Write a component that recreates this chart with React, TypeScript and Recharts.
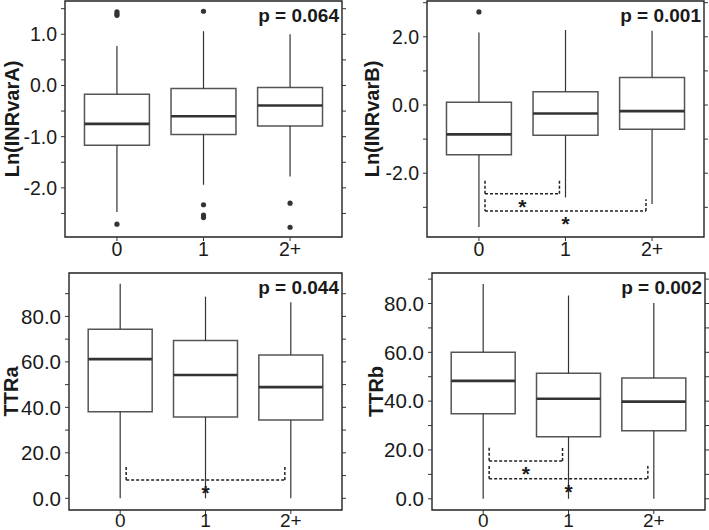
import React from 'react';
import {
  ComposedChart,
  XAxis,
  YAxis,
  Scatter,
  ReferenceArea,
  ReferenceLine,
  ReferenceDot,
} from 'recharts';

const FONT = '"Liberation Sans", Arial, Helvetica, sans-serif';
const CATS = ['0', '1', '2+'];

// Ln(INRvarA)
const inrA_lo = [-2.47, -1.94, -1.78];
const inrA_q1 = [-1.17, -0.96, -0.79];
const inrA_med = [-0.75, -0.6, -0.39];
const inrA_q3 = [-0.17, -0.06, -0.04];
const inrA_hi = [0.77, 1.06, 1.0];
const inrA_out = [[1.44, 1.4, 1.37, -2.71], [1.45, -2.33, -2.53, -2.58], [-2.3, -2.77]];

// Ln(INRvarB)
const inrB_lo = [-3.58, -2.71, -2.9];
const inrB_q1 = [-1.46, -0.89, -0.71];
const inrB_med = [-0.86, -0.25, -0.18];
const inrB_q3 = [0.08, 0.39, 0.81];
const inrB_hi = [2.13, 2.2, 2.18];
const inrB_out = [[2.73], [], []];
const inrB_cmp = [
  { a: 0, b: 1, y: -2.6, tip: -2.22 },
  { a: 0, b: 2, y: -3.11, tip: -2.76 },
];

// TTRa
const ttrA_lo = [0, 0, 0];
const ttrA_q1 = [38.1, 35.8, 34.4];
const ttrA_med = [61.2, 54.2, 48.9];
const ttrA_q3 = [74.4, 69.4, 63.0];
const ttrA_hi = [94.4, 88.7, 86.2];
const ttrA_cmp = [{ a: 0, b: 2, y: 8.1, tip: 13.8 }];

// TTRb
const ttrB_lo = [0, 0, 0];
const ttrB_q1 = [34.8, 25.4, 27.9];
const ttrB_med = [48.3, 41.0, 39.8];
const ttrB_q3 = [60.0, 51.4, 49.5];
const ttrB_hi = [88.0, 83.3, 80.2];
const ttrB_cmp = [
  { a: 0, b: 1, y: 15.5, tip: 20.9 },
  { a: 0, b: 2, y: 8.2, tip: 13.4 },
];

const HALF = 0.375;
const INSET = 0.07;

type Cmp = { a: number; b: number; y: number; tip: number };

interface PanelProps {
  title: string;
  p: string;
  left: number;
  top: number;
  width: number;
  height: number;
  yWidth: number;
  rWidth: number;
  mTop: number;
  mRight: number;
  xHeight: number;
  titleX: number;
  font: number;
  xFont: number;
  xMargin: number;
  domain: [number, number];
  ticks: number[];
  major: number;
  lo: number[];
  q1: number[];
  med: number[];
  q3: number[];
  hi: number[];
  outliers?: number[][];
  cmps?: Cmp[];
}

function Panel(props: PanelProps) {
  const { domain, ticks, major, cmps = [] } = props;
  const pts = (props.outliers ?? []).flatMap((ys, i) => ys.map((y) => ({ x: i + 1, y })));
  const isMajor = (v: number) => Math.abs(v / major - Math.round(v / major)) < 1e-6;
  const tickStyle = { fontSize: props.font, fill: '#1a1a1a', fontFamily: FONT };

  return (
    <div style={{ position: 'absolute', left: props.left, top: props.top }}>
      <ComposedChart
        width={props.width}
        height={props.height}
        margin={{ top: props.mTop, right: props.mRight, bottom: 0, left: 0 }}
      >
        <XAxis
          type="number"
          dataKey="x"
          domain={[0.4, 3.6]}
          ticks={[1, 2, 3]}
          interval={0}
          allowDataOverflow
          tickFormatter={(v: number) => CATS[Math.round(v) - 1]}
          axisLine={false}
          tickSize={4}
          tickMargin={props.xMargin}
          tickLine={{ stroke: '#333' }}
          tick={{ ...tickStyle, fontSize: props.xFont }}
          height={props.xHeight}
        />
        <YAxis
          yAxisId="l"
          type="number"
          dataKey="y"
          domain={domain}
          ticks={ticks}
          interval={0}
          allowDataOverflow
          tickFormatter={(v: number) => (isMajor(v) ? v.toFixed(1) : '')}
          axisLine={false}
          tickSize={4}
          tickMargin={4}
          tickLine={{ stroke: '#333' }}
          tick={tickStyle}
          width={props.yWidth}
          label={(lp: any) => {
            const vb = lp.viewBox;
            const cx = vb.x + props.titleX;
            const cy = vb.y + vb.height / 2;
            return (
              <text
                x={cx}
                y={cy}
                transform={`rotate(-90 ${cx} ${cy})`}
                textAnchor="middle"
                dominantBaseline="central"
                fontFamily={FONT}
                fontWeight="bold"
                fontSize={20}
                fill="#1a1a1a"
              >
                {props.title}
              </text>
            );
          }}
        />
        <YAxis
          yAxisId="r"
          orientation="right"
          type="number"
          domain={domain}
          ticks={ticks}
          interval={0}
          allowDataOverflow
          tickFormatter={() => ''}
          axisLine={false}
          tickSize={4}
          tickLine={{ stroke: '#333' }}
          width={props.rWidth}
        />

        {/* whiskers */}
        {CATS.map((_, i) => (
          <ReferenceLine
            key={`wu${i}`}
            yAxisId="l"
            ifOverflow="visible"
            segment={[{ x: i + 1, y: props.q3[i] }, { x: i + 1, y: props.hi[i] }]}
            stroke="#333"
            strokeWidth={1.2}
          />
        ))}
        {CATS.map((_, i) => (
          <ReferenceLine
            key={`wl${i}`}
            yAxisId="l"
            ifOverflow="visible"
            segment={[{ x: i + 1, y: props.lo[i] }, { x: i + 1, y: props.q1[i] }]}
            stroke="#333"
            strokeWidth={1.2}
          />
        ))}

        {/* boxes */}
        {CATS.map((_, i) => (
          <ReferenceArea
            key={`b${i}`}
            yAxisId="l"
            ifOverflow="visible"
            x1={i + 1 - HALF}
            x2={i + 1 + HALF}
            y1={props.q1[i]}
            y2={props.q3[i]}
            fill="#fff"
            fillOpacity={1}
            stroke="#555"
            strokeWidth={1.5}
          />
        ))}
        {CATS.map((_, i) => (
          <ReferenceLine
            key={`m${i}`}
            yAxisId="l"
            ifOverflow="visible"
            segment={[
              { x: i + 1 - HALF, y: props.med[i] },
              { x: i + 1 + HALF, y: props.med[i] },
            ]}
            stroke="#333"
            strokeWidth={2.6}
          />
        ))}

        {/* significance brackets */}
        {cmps.map((c, k) => {
          const x1 = c.a + 1 + INSET;
          const x2 = c.b + 1 - INSET;
          const dash = { stroke: '#222', strokeWidth: 1.5, strokeDasharray: '3 2' };
          return [
            <ReferenceLine key={`cl${k}`} yAxisId="l" ifOverflow="visible" {...dash}
              segment={[{ x: x1, y: c.tip }, { x: x1, y: c.y }]} />,
            <ReferenceLine key={`ch${k}`} yAxisId="l" ifOverflow="visible" {...dash}
              segment={[{ x: x1, y: c.y }, { x: x2, y: c.y }]} />,
            <ReferenceLine key={`cr${k}`} yAxisId="l" ifOverflow="visible" {...dash}
              segment={[{ x: x2, y: c.y }, { x: x2, y: c.tip }]} />,
            <ReferenceDot
              key={`cs${k}`}
              yAxisId="l"
              ifOverflow="visible"
              x={(x1 + x2) / 2}
              y={c.y}
              r={0}
              shape={(sp: any) => (
                <text
                  x={sp.cx}
                  y={sp.cy + 20}
                  textAnchor="middle"
                  fontFamily={FONT}
                  fontWeight="bold"
                  fontSize={21}
                  fill="#1a1a1a"
                >
                  *
                </text>
              )}
            />,
          ];
        })}

        <Scatter
          yAxisId="l"
          data={pts}
          dataKey="y"
          isAnimationActive={false}
          fill="#333"
          shape={(sp: any) => <circle cx={sp.cx} cy={sp.cy} r={2.6} fill="#333" />}
        />

        {/* frame + p value */}
        <ReferenceArea
          yAxisId="l"
          ifOverflow="visible"
          x1={0.4}
          x2={3.6}
          y1={domain[0]}
          y2={domain[1]}
          fill="none"
          stroke="#222"
          strokeWidth={1.4}
          label={(lp: any) => {
            const vb = lp.viewBox;
            return (
              <text
                x={vb.x + vb.width - 3}
                y={vb.y + 21}
                textAnchor="end"
                fontFamily={FONT}
                fontWeight="bold"
                fontSize={19}
                fill="#1a1a1a"
              >
                {props.p}
              </text>
            );
          }}
        />
      </ComposedChart>
    </div>
  );
}

export default function App() {
  return (
    <div
      style={{
        position: 'absolute',
        left: 0,
        top: 0,
        width: 709,
        height: 530,
        background: '#fff',
        overflow: 'hidden',
        fontFamily: FONT,
      }}
    >
      <Panel
        title="Ln(INRvarA)"
        p="p = 0.064"
        left={0}
        top={0}
        width={354}
        height={265}
        yWidth={65}
        rWidth={6}
        mTop={1}
        mRight={6}
        xHeight={28}
        titleX={12}
        font={19.5}
        xFont={19.5}
        xMargin={1}
        domain={[-2.96, 1.65]}
        ticks={[-2.5, -2, -1.5, -1, -0.5, 0, 0.5, 1, 1.5]}
        major={1}
        lo={inrA_lo}
        q1={inrA_q1}
        med={inrA_med}
        q3={inrA_q3}
        hi={inrA_hi}
        outliers={inrA_out}
      />
      <Panel
        title="Ln(INRvarB)"
        p="p = 0.001"
        left={354}
        top={0}
        width={355}
        height={265}
        yWidth={73}
        rWidth={4}
        mTop={1}
        mRight={1}
        xHeight={28}
        titleX={18}
        font={19.5}
        xFont={19.5}
        xMargin={1}
        domain={[-3.87, 3.05]}
        ticks={[-3, -2, -1, 0, 1, 2, 3]}
        major={2}
        lo={inrB_lo}
        q1={inrB_q1}
        med={inrB_med}
        q3={inrB_q3}
        hi={inrB_hi}
        outliers={inrB_out}
        cmps={inrB_cmp}
      />
      <Panel
        title="TTRa"
        p="p = 0.044"
        left={0}
        top={265}
        width={354}
        height={265}
        yWidth={69}
        rWidth={6}
        mTop={8}
        mRight={6}
        xHeight={20}
        titleX={11}
        font={20.5}
        xFont={19}
        xMargin={0}
        domain={[-5.15, 99.1]}
        ticks={[0, 10, 20, 30, 40, 50, 60, 70, 80, 90]}
        major={20}
        lo={ttrA_lo}
        q1={ttrA_q1}
        med={ttrA_med}
        q3={ttrA_q3}
        hi={ttrA_hi}
        cmps={ttrA_cmp}
      />
      <Panel
        title="TTRb"
        p="p = 0.002"
        left={354}
        top={265}
        width={355}
        height={265}
        yWidth={78}
        rWidth={3}
        mTop={8}
        mRight={1}
        xHeight={20}
        titleX={22}
        font={20.5}
        xFont={19}
        xMargin={0}
        domain={[-4.6, 92.5]}
        ticks={[0, 10, 20, 30, 40, 50, 60, 70, 80, 90]}
        major={20}
        lo={ttrB_lo}
        q1={ttrB_q1}
        med={ttrB_med}
        q3={ttrB_q3}
        hi={ttrB_hi}
        cmps={ttrB_cmp}
      />
    </div>
  );
}
